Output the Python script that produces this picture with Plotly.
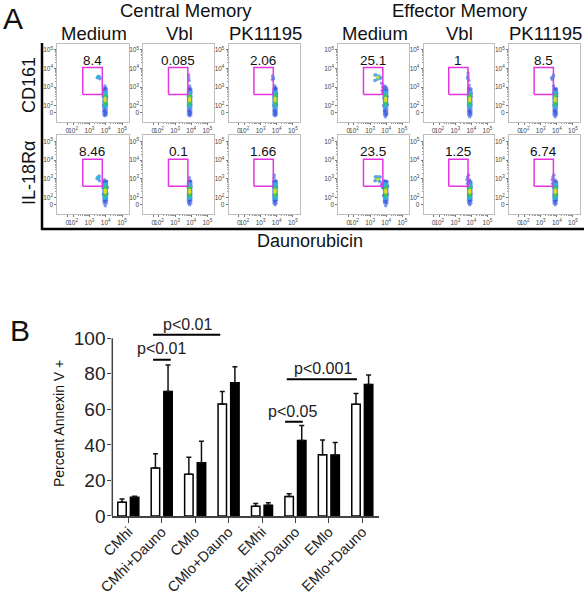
import plotly.graph_objects as go

W, H = 584, 600
FONT = "Liberation Sans"

# ---------- Panel B data ----------
categories = ["CMhi", "CMhi+Dauno", "CMlo", "CMlo+Dauno", "EMhi", "EMhi+Dauno", "EMlo", "EMlo+Dauno"]
white_values = [7.7, 27, 23.5, 63, 5.5, 11, 34.5, 62.9]
white_errors = [1.8, 8, 9.5, 7, 1.5, 1.5, 8.3, 6]
black_values = [10.5, 70, 30, 75, 6, 42.5, 34.3, 74]
black_errors = [0.6, 15, 12, 9, 1.5, 8.5, 7, 5.4]
y_ticks = [0, 20, 40, 60, 80, 100]
sig_x = [[0.74, 2.75], [0.74, 1.27], [4.69, 5.22], [4.74, 6.84]]
sig_y = [102, 88, 53, 77]
sig_text = ["p<0.01", "p<0.01", "p<0.05", "p<0.001"]
sig_text_x = [1.76, 1.0, 4.91, 5.82]
sig_text_y = [108, 94, 59, 83]

# ---------- Panel A data ----------
col_titles = ["Medium", "Vbl", "PK11195", "Medium", "Vbl", "PK11195"]
gate_pct = ["8.4", "0.085", "2.06", "25.1", "1", "8.5",
            "8.46", "0.1", "1.66", "23.5", "1.25", "6.74"]
gate_x = [2.59, 3.79, 3.79, 2.59, 2.59]
gate_y = [2.6, 2.6, 4.05, 4.05, 2.6]
x_tick_vals = [1.65, 2, 3, 4, 5]
y_tick_vals = [1.6, 2, 3, 4, 5]
tick_text_sci = ["0", "10<sup>2</sup>", "10<sup>3</sup>", "10<sup>4</sup>", "10<sup>5</sup>"]
minor_vals = [2.3, 2.48, 2.6, 2.7, 2.78, 2.85, 2.9, 2.95, 3.3, 3.48, 3.6, 3.7, 3.78, 3.85, 3.9, 3.95,
              4.3, 4.48, 4.6, 4.7, 4.78, 4.85, 4.9, 4.95]

# Centre of the main population in each panel, and the read-off body of that population
main_x = [3.96, 3.9, 3.9, 3.96, 3.9, 3.9, 3.97, 3.9, 3.9, 3.97, 3.9, 3.9]
body_top_y = [
    [1.5, 1.62, 1.75, 1.88, 2.0, 2.1, 2.2, 2.3, 2.4, 2.5, 2.6, 2.7, 2.8, 2.9],
    [1.7, 1.85, 1.95, 2.05, 2.15, 2.25, 2.35, 2.45, 2.55, 2.65, 2.75, 2.85],
]
body_cyan_y = [1.95, 2.05, 2.15, 2.25, 2.35, 2.45, 2.55, 2.65, 2.72]
body_green_y = [2.08, 2.16, 2.24, 2.32, 2.4, 2.48, 2.56]
body_yellow_y = [2.26, 2.33, 2.4]
blue_offsets = [-0.07, 0.07]
cyan_offsets = [-0.035, 0.035]

# Density level: 0 blue, 1 cyan, 2 green, 3 yellow
p1_x = [3.95, 3.9, 4.0, 3.88, 4.02, 3.93, 3.99, 3.86, 4.04, 3.92, 3.98, 3.95, 3.93, 3.98, 3.95, 3.97, 3.96, 3.48, 3.58, 3.65, 3.52, 3.6, 3.55]
p1_y = [1.45, 1.7, 1.6, 2.0, 2.05, 1.9, 2.6, 2.5, 2.45, 2.85, 2.95, 3.05, 1.95, 2.0, 2.65, 2.1, 2.35, 3.5, 3.58, 3.45, 3.55, 3.52, 3.52]
p1_c = [0, 0, 0, 0, 0, 0, 0, 0, 0, 0, 0, 0, 1, 1, 1, 2, 3, 0, 0, 0, 1, 1, 1]

p2_x = [3.9, 3.87, 3.93, 3.84, 3.96, 3.87, 3.95, 3.83, 3.97, 3.88, 3.92, 3.9, 3.88, 3.92, 3.9, 3.9, 3.91, 3.84, 3.86, 3.85]
p2_y = [1.45, 1.7, 1.6, 2.0, 2.05, 2.45, 2.5, 2.65, 2.7, 2.9, 2.85, 3.05, 1.95, 2.0, 2.65, 2.15, 2.35, 3.65, 3.35, 3.5]
p2_c = [0, 0, 0, 0, 0, 0, 0, 0, 0, 0, 0, 0, 1, 1, 1, 2, 2, 0, 0, 1]

p3_x = [3.9, 3.87, 3.93, 3.84, 3.97, 3.85, 3.96, 3.84, 3.98, 3.87, 3.93, 3.88, 3.91, 3.9, 3.88, 3.92, 3.9, 3.91, 3.75, 3.8, 3.74, 3.78]
p3_y = [1.45, 1.7, 1.6, 2.0, 2.05, 2.4, 2.5, 2.7, 2.65, 2.9, 2.95, 3.05, 1.95, 2.9, 2.1, 2.65, 2.2, 2.4, 3.6, 3.45, 3.4, 3.52]
p3_c = [0, 0, 0, 0, 0, 0, 0, 0, 0, 0, 0, 0, 1, 0, 1, 1, 2, 2, 0, 0, 0, 1]

p4_x = [3.95, 3.9, 4.0, 3.84, 4.06, 3.85, 4.04, 3.78, 4.02, 3.82, 3.98, 3.88, 3.95, 3.9, 4.0, 3.94, 3.98, 3.95, 3.97, 3.72, 3.78, 3.75, 3.3, 3.3, 3.66, 3.38, 3.6, 3.42, 3.56, 3.48, 3.47]
p4_y = [1.4, 1.7, 1.55, 2.0, 2.05, 2.4, 2.5, 2.65, 2.8, 2.85, 3.0, 3.05, 1.95, 2.1, 2.2, 2.45, 2.6, 2.2, 2.35, 3.2, 3.0, 2.8, 3.35, 3.65, 3.5, 3.65, 3.45, 3.4, 3.6, 3.52, 3.53]
p4_c = [0, 0, 0, 0, 0, 0, 0, 0, 0, 0, 0, 0, 1, 1, 1, 1, 1, 2, 3, 0, 0, 0, 0, 0, 0, 1, 1, 1, 1, 2, 3]

p5_x = [3.9, 3.87, 3.93, 3.84, 3.96, 3.85, 3.96, 3.84, 3.98, 3.82, 3.86, 3.9, 3.88, 3.92, 3.91, 3.9, 3.8, 3.76, 3.84, 3.8, 3.8]
p5_y = [1.4, 1.7, 1.6, 2.0, 2.05, 2.4, 2.5, 2.7, 2.65, 2.95, 3.1, 1.95, 2.1, 2.65, 2.2, 2.45, 3.75, 3.5, 3.35, 3.6, 3.45]
p5_c = [0, 0, 0, 0, 0, 0, 0, 0, 0, 0, 0, 1, 1, 1, 2, 2, 0, 0, 0, 1, 1]

p6_x = [3.9, 3.87, 3.93, 3.84, 3.97, 3.84, 3.98, 3.82, 4.0, 3.84, 3.95, 3.8, 3.87, 3.92, 3.88, 3.93, 3.9, 3.91, 3.68, 3.8, 3.72, 3.78, 3.75]
p6_y = [1.4, 1.7, 1.6, 2.0, 2.05, 2.4, 2.5, 2.7, 2.65, 2.9, 2.85, 3.05, 1.95, 2.0, 2.65, 2.6, 2.15, 2.35, 3.5, 3.65, 3.4, 3.55, 3.52]
p6_c = [0, 0, 0, 0, 0, 0, 0, 0, 0, 0, 0, 0, 1, 1, 1, 1, 2, 2, 0, 0, 0, 1, 1]

p7_x = [3.97, 3.93, 4.02, 3.85, 4.08, 3.83, 4.1, 3.85, 4.05, 3.93, 3.95, 3.9, 4.03, 3.92, 4.02, 3.97, 3.98, 3.97, 3.47, 3.6, 3.62, 3.5, 3.58, 3.55]
p7_y = [1.55, 1.8, 1.85, 2.15, 2.2, 2.5, 2.55, 2.8, 2.85, 2.95, 2.05, 2.3, 2.3, 2.6, 2.6, 2.2, 2.55, 2.4, 3.0, 3.15, 2.9, 3.08, 3.05, 3.02]
p7_c = [0, 0, 0, 0, 0, 0, 0, 0, 0, 0, 1, 1, 1, 1, 1, 2, 2, 3, 0, 0, 0, 1, 1, 1]

p8_x = [3.9, 3.87, 3.93, 3.84, 3.96, 3.83, 3.97, 3.85, 3.94, 3.88, 3.92, 3.88, 3.92, 3.9, 3.9]
p8_y = [1.6, 1.8, 1.85, 2.1, 2.15, 2.55, 2.6, 2.85, 2.9, 3.05, 2.05, 2.2, 2.6, 2.3, 2.45]
p8_c = [0, 0, 0, 0, 0, 0, 0, 0, 0, 0, 1, 1, 1, 2, 2]

p9_x = [3.9, 3.87, 3.93, 3.84, 3.97, 3.82, 3.97, 3.81, 3.94, 3.84, 3.85, 3.88, 3.92, 3.88, 3.92, 3.9, 3.91]
p9_y = [1.6, 1.8, 1.85, 2.1, 2.15, 2.55, 2.6, 2.85, 2.9, 3.05, 3.2, 2.05, 2.05, 2.7, 2.6, 2.25, 2.4]
p9_c = [0, 0, 0, 0, 0, 0, 0, 0, 0, 0, 0, 1, 1, 1, 1, 2, 3]

p10_x = [3.97, 3.9, 4.0, 3.83, 4.07, 3.8, 4.08, 3.75, 4.02, 3.7, 3.8, 3.9, 3.98, 3.9, 3.98, 3.95, 3.98, 3.97, 3.33, 3.3, 3.62, 3.6, 3.4, 3.38, 3.55, 3.57, 3.47, 3.48]
p10_y = [1.55, 1.8, 1.75, 2.1, 2.15, 2.55, 2.6, 2.75, 2.85, 2.65, 2.5, 2.9, 2.1, 2.3, 2.65, 2.2, 2.55, 2.4, 3.1, 2.9, 3.1, 2.85, 3.12, 2.92, 3.1, 2.9, 3.02, 2.97]
p10_c = [0, 0, 0, 0, 0, 0, 0, 0, 0, 0, 0, 0, 1, 1, 1, 2, 2, 3, 0, 0, 0, 0, 1, 1, 1, 1, 2, 3]

p11_x = [3.9, 3.87, 3.94, 3.84, 3.97, 3.82, 3.98, 3.76, 3.95, 3.73, 3.88, 3.76, 3.83, 3.88, 3.92, 3.87, 3.92, 3.9, 3.9]
p11_y = [1.6, 1.8, 1.85, 2.1, 2.15, 2.55, 2.55, 2.75, 2.75, 2.95, 2.95, 3.1, 3.2, 2.05, 2.05, 2.6, 2.6, 2.25, 2.4]
p11_c = [0, 0, 0, 0, 0, 0, 0, 0, 0, 0, 0, 0, 0, 1, 1, 1, 1, 2, 2]

p12_x = [3.9, 3.87, 3.94, 3.84, 3.98, 3.8, 4.0, 3.74, 3.96, 3.72, 3.88, 3.76, 3.82, 3.88, 3.93, 3.85, 3.94, 3.9, 3.91, 3.91]
p12_y = [1.6, 1.8, 1.85, 2.1, 2.15, 2.55, 2.6, 2.75, 2.8, 2.95, 2.95, 3.1, 3.2, 2.05, 2.05, 2.6, 2.55, 2.2, 2.5, 2.35]
p12_c = [0, 0, 0, 0, 0, 0, 0, 0, 0, 0, 0, 0, 0, 1, 1, 1, 1, 2, 2, 3]

panel_x = [p1_x, p2_x, p3_x, p4_x, p5_x, p6_x, p7_x, p8_x, p9_x, p10_x, p11_x, p12_x]
panel_y = [p1_y, p2_y, p3_y, p4_y, p5_y, p6_y, p7_y, p8_y, p9_y, p10_y, p11_y, p12_y]
panel_c = [p1_c, p2_c, p3_c, p4_c, p5_c, p6_c, p7_c, p8_c, p9_c, p10_c, p11_c, p12_c]

# ---------- Styling / layout ----------
level_colors = ["#2f55dd", "#2cb4e6", "#3cc45a", "#d8dc2c"]
level_sizes = [3.5, 3.5, 3.2, 3]
level_opacity = [0.6, 0.8, 0.9, 1]
col_px = [(57.3, 128.7), (143.3, 214), (228.7, 299.5), (338.3, 409), (423.7, 494), (509, 579.5)]
row_px = [(43.5, 122), (135, 214)]
X_RANGE = [1.03, 5.41]
Y_RANGE = [1.11, 5.35]
BOX = "#bdbdbd"


def xdom(a, b):
    return [a / W, b / W]


def ydom(top, bottom):
    return [1 - bottom / H, 1 - top / H]


fig = go.Figure()
layout = {}
ann = []


def text(x, y, s, size, rot=0, color="#111"):
    ann.append(dict(x=x / W, y=1 - y / H, xref="paper", yref="paper", text=s, showarrow=False,
                    textangle=rot, xanchor="center", yanchor="middle",
                    font=dict(family=FONT, size=size, color=color)))


for i in range(12):
    n = i + 1
    r, c = i // 6, i % 6
    xa, ya = f"x{n}", f"y{n}"
    body = {
        0: ([main_x[i] + o for o in blue_offsets for _ in body_top_y[r]], body_top_y[r] * len(blue_offsets)),
        1: ([main_x[i] + o for o in cyan_offsets for _ in body_cyan_y], body_cyan_y * len(cyan_offsets)),
        2: ([main_x[i]] * len(body_green_y), body_green_y),
        3: ([main_x[i]] * len(body_yellow_y), body_yellow_y),
    }
    for lev in range(4):
        pts = [k for k, v in enumerate(panel_c[i]) if v == lev]
        xs = body[lev][0] + [panel_x[i][k] for k in pts]
        ys = body[lev][1] + [panel_y[i][k] for k in pts]
        fig.add_trace(go.Scatter(
            x=xs, y=ys, mode="markers", xaxis=xa, yaxis=ya, showlegend=False, hoverinfo="skip",
            marker=dict(color=level_colors[lev], size=level_sizes[lev],
                        opacity=level_opacity[lev], line=dict(width=0))))
    fig.add_trace(go.Scatter(x=gate_x, y=gate_y, mode="lines", xaxis=xa, yaxis=ya, showlegend=False,
                             hoverinfo="skip", line=dict(color="#e535e0", width=1.5)))
    common = dict(automargin=False, showgrid=False, zeroline=False, showline=True, linecolor=BOX, linewidth=1,
                  mirror=True, ticks="outside", ticklen=2, tickwidth=0.7, tickcolor="#777",
                  tickfont=dict(family=FONT, size=6.5, color="#444"), ticktext=tick_text_sci,
                  minor=dict(tickvals=minor_vals, ticklen=1, tickwidth=0.5, tickcolor="#999", ticks="outside"))
    layout[f"xaxis{n}"] = dict(domain=xdom(*col_px[c]), range=X_RANGE, anchor=ya, tickmode="array",
                               tickvals=x_tick_vals, tickangle=0, **common)
    layout[f"yaxis{n}"] = dict(domain=ydom(*row_px[r]), range=Y_RANGE, anchor=xa, tickmode="array",
                               tickvals=y_tick_vals, **common)
    ann.append(dict(x=3.18, y=4.45, xref=xa, yref=ya, text=gate_pct[i], showarrow=False,
                    font=dict(family=FONT, size=13.5, color="#111")))

# Panel B
bx, by = "x13", "y13"
fig.add_trace(go.Bar(x=list(range(8)), y=white_values, xaxis=bx, yaxis=by, showlegend=False,
                     marker=dict(color="white", line=dict(color="black", width=1.5)),
                     error_y=dict(type="data", symmetric=False, array=white_errors,
                                  arrayminus=[0] * 8, color="#111", thickness=1.5, width=2.5)))
fig.add_trace(go.Bar(x=list(range(8)), y=black_values, xaxis=bx, yaxis=by, showlegend=False,
                     marker=dict(color="black", line=dict(color="black", width=1.5)),
                     error_y=dict(type="data", symmetric=False, array=black_errors,
                                  arrayminus=[0] * 8, color="#111", thickness=1.5, width=2.5)))
for sx, sy in zip(sig_x, sig_y):
    fig.add_trace(go.Scatter(x=sx, y=[sy, sy], mode="lines", xaxis=bx, yaxis=by, showlegend=False,
                             hoverinfo="skip", line=dict(color="black", width=2)))
for tx, ty, s in zip(sig_text_x, sig_text_y, sig_text):
    ann.append(dict(x=tx, y=ty, xref=bx, yref=by, text=s.replace("<", "&lt;"), showarrow=False,
                    font=dict(family=FONT, size=16, color="#222")))

layout["xaxis13"] = dict(automargin=False, domain=xdom(112.3, 379), range=[-0.479, 7.5], anchor=by, tickmode="array",
                         tickvals=list(range(8)), ticktext=categories, tickangle=-45, ticklabelstandoff=-5,
                         tickfont=dict(family=FONT, size=14.5, color="#222"), showgrid=False, zeroline=False,
                         showline=True, linecolor="#444", linewidth=1.5, ticks="outside", ticklen=5,
                         tickwidth=1.3, tickcolor="#444")
layout["yaxis13"] = dict(automargin=False, domain=ydom(516 - 112 * 1.777, 516), range=[0, 112], anchor=bx, tickmode="array",
                         tickvals=y_ticks, tickfont=dict(family=FONT, size=19, color="#222"), showgrid=False,
                         zeroline=False, showline=False, ticks="outside", ticklabelstandoff=-2,
                         ticklen=4, tickwidth=1.3, tickcolor="#444")

# Text
text(13, 18, "A", 30)
text(20, 330, "B", 30)
text(186, 10, "Central Memory", 18.5)
text(460, 10, "Effector Memory", 18.5)
for c, t in enumerate(col_titles):
    text(sum(col_px[c]) / 2 + 1, 33, t, 18.5)
text(29, 85, "CD161", 18, rot=-90)
text(29, 173, "IL-18Rα", 18, rot=-90)
text(310, 241, "Daunorubicin", 18)
text(59, 424, "Percent Annexin V +", 14, rot=-90)

shapes = [
    dict(type="line", xref="paper", yref="paper", x0=42 / W, x1=42 / W, y0=1 - 43 / H, y1=1 - 230 / H,
         line=dict(color="black", width=2.5)),
    dict(type="line", xref="paper", yref="paper", x0=41 / W, x1=584 / W, y0=1 - 229 / H, y1=1 - 229 / H,
         line=dict(color="black", width=2.5)),
    dict(type="line", xref="x13 domain", yref="y13", x0=0, x1=0, y0=0, y1=100,
         line=dict(color="#444", width=1.5)),
]

fig.update_layout(width=W, height=H, margin=dict(l=0, r=0, t=0, b=0), paper_bgcolor="white",
                  plot_bgcolor="white", barmode="group", bargap=0.246, bargroupgap=0.33,
                  annotations=ann, shapes=shapes, showlegend=False, hovermode=False, **layout)
fig.write_html("out.html", config={"displayModeBar": False}, post_script="document.body.style.margin='0';")
